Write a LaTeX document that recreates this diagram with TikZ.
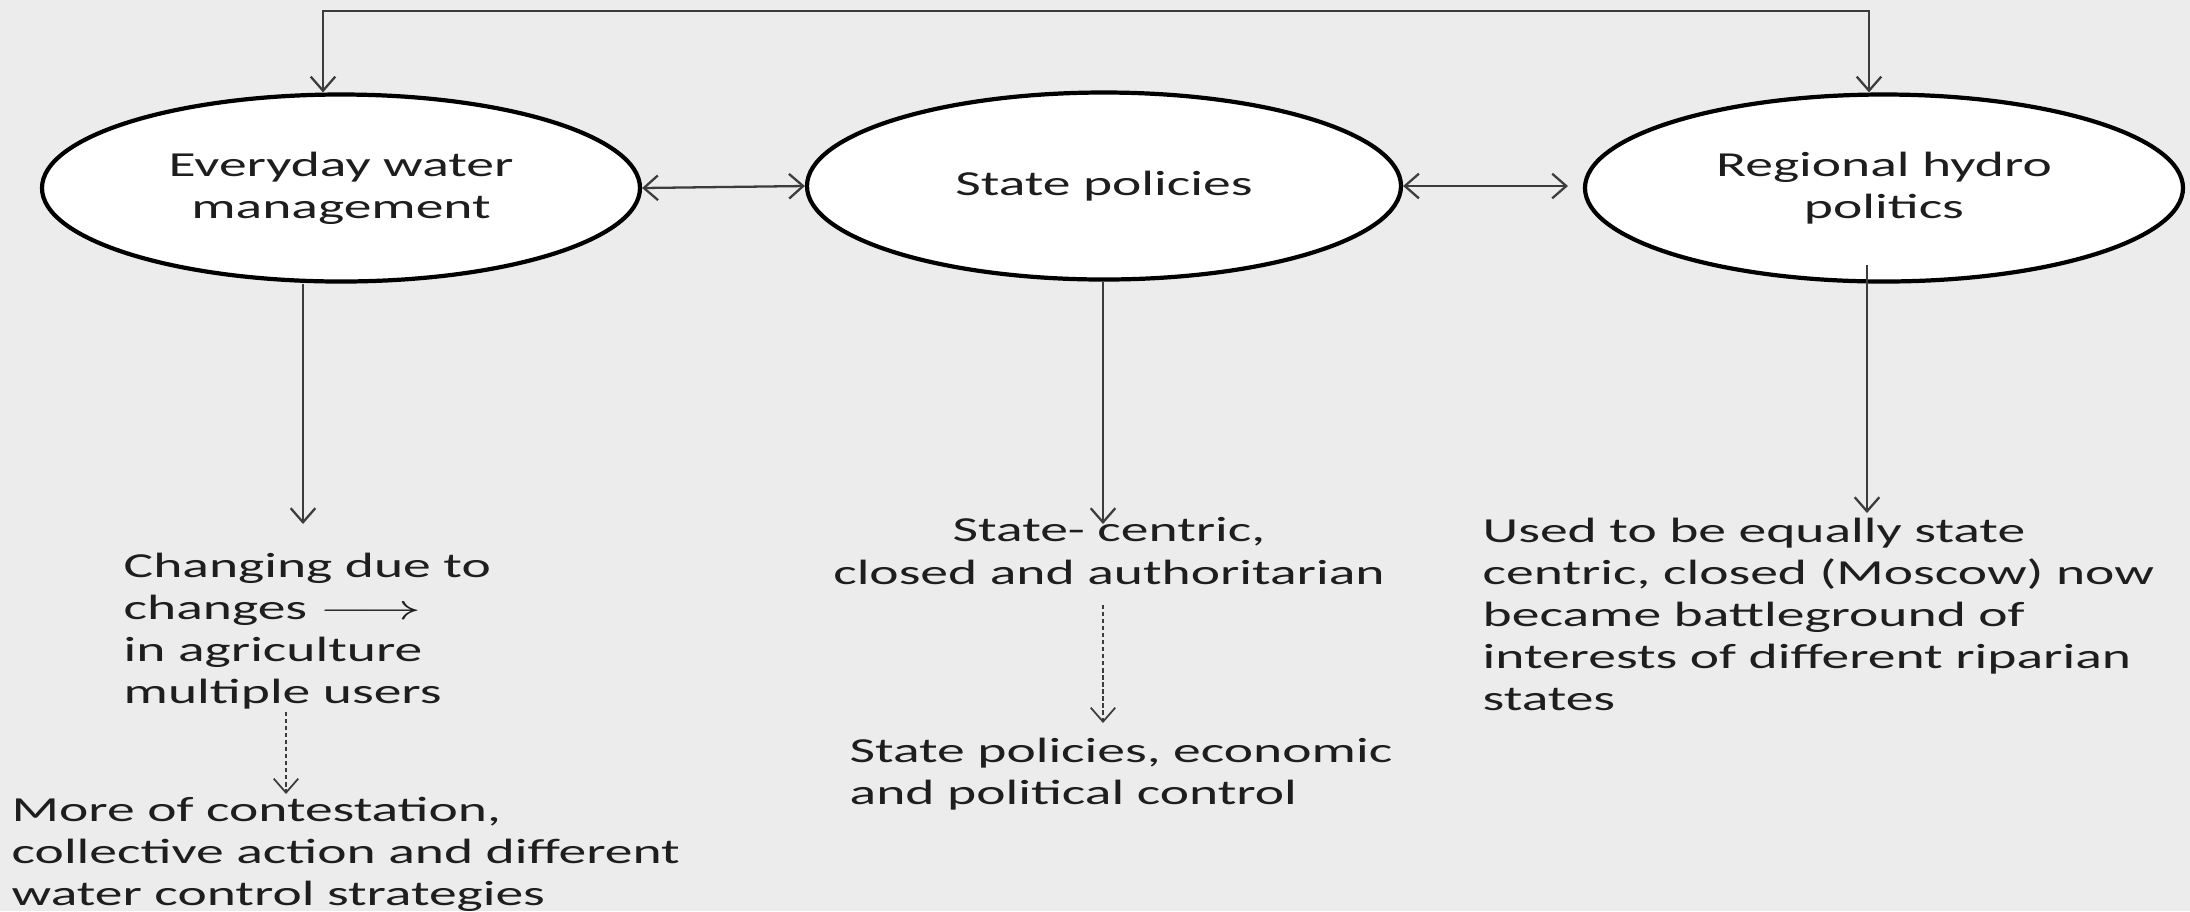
\documentclass[tikz,border=0pt]{standalone}
\usepackage{fontspec}
\setmainfont{Carlito}[FakeStretch=1.58]
\usetikzlibrary{shapes.geometric,arrows.meta}
\definecolor{slidebg}{RGB}{236,236,237}
\definecolor{inkgray}{RGB}{60,60,60}
\definecolor{textgray}{RGB}{30,30,30}

\begin{document}
\begin{tikzpicture}[
        topic/.style={ellipse, draw=black, line width=1.2pt, fill=white, minimum width=5.98cm, minimum height=1.87cm, inner sep=0pt, align=center, font=\fontsize{10}{12}\selectfont, text=textgray},
        note/.style={inner sep=0pt, font=\fontsize{10}{12}\selectfont, text=textgray},
        arrow/.style={-{Straight Barb[length=4pt,width=7pt]}, draw=inkgray, line width=0.65pt},
        both/.style={{Straight Barb[length=4pt,width=7pt]}-{Straight Barb[length=4pt,width=7pt]}, draw=inkgray, line width=0.65pt},
        hint/.style={-{Straight Barb[length=4pt,width=7pt]}, draw=inkgray, line width=0.5pt, dash pattern=on 1.2pt off 0.8pt}
    ]

    % Background
    \fill[slidebg] (0,0) rectangle (21.9,-9.11);
    \useasboundingbox (0,0) rectangle (21.9,-9.11);

    % Levels
    \node[topic] (everyday) at (3.41,-1.88) {Everyday water\\management};
    \node[topic, minimum width=5.94cm] (state) at (11.04,-1.86) {State policies};
    \node[topic] (regional) at (18.84,-1.88) {Regional hydro\\politics};

    % Descriptions
    \node[note, anchor=north west, align=left] (changing) at (1.23,-5.52) {Changing due to\\changes \scalebox{1.8}[1]{$\longrightarrow$}\\in agriculture\\multiple users};
    \node[note, anchor=north west, align=left] (contest) at (0.11,-7.96) {More of contestation,\\collective action and different\\water control strategies};
    \node[note, anchor=north, align=center] (centric) at (11.09,-5.17) {State- centric,\\closed and authoritarian};
    \node[note, anchor=north west, align=left] (control) at (8.49,-7.37) {State policies, economic\\and political control};
    \node[note, anchor=north west, align=left] (riparian) at (14.82,-5.17) {Used to be equally state\\centric, closed (Moscow) now\\became battleground of\\interests of different riparian\\states};

    % Loose ends
    \coordinate (topL) at (3.23,-0.11);
    \coordinate (topR) at (18.69,-0.11);
    \coordinate (downA) at (3.03,-5.24);
    \coordinate (downB) at (11.03,-5.24);
    \coordinate (startC) at (18.67,-2.65);
    \coordinate (downC) at (18.67,-5.13);
    \coordinate (gapR) at (15.68,-1.86);

    % Links between levels
    \draw[both] (everyday.east) -- (state.west);
    \draw[both] (state.east) -- (gapR);
    \draw[both] (everyday.north -| topL) -- (topL) -- (topR) -- (regional.north -| topR);

    % Down to descriptions
    \draw[arrow] (everyday.south -| downA) -- (downA);
    \draw[arrow] (state.south -| downB) -- (downB);
    \draw[arrow] (startC) -- (downC);

    % Consequences
    \draw[hint] (2.86,-7.12) -- (2.86,-7.94);
    \draw[hint] (centric.south -| downB) ++(0,-0.2) -- (11.03,-7.23);

\end{tikzpicture}
\end{document}
